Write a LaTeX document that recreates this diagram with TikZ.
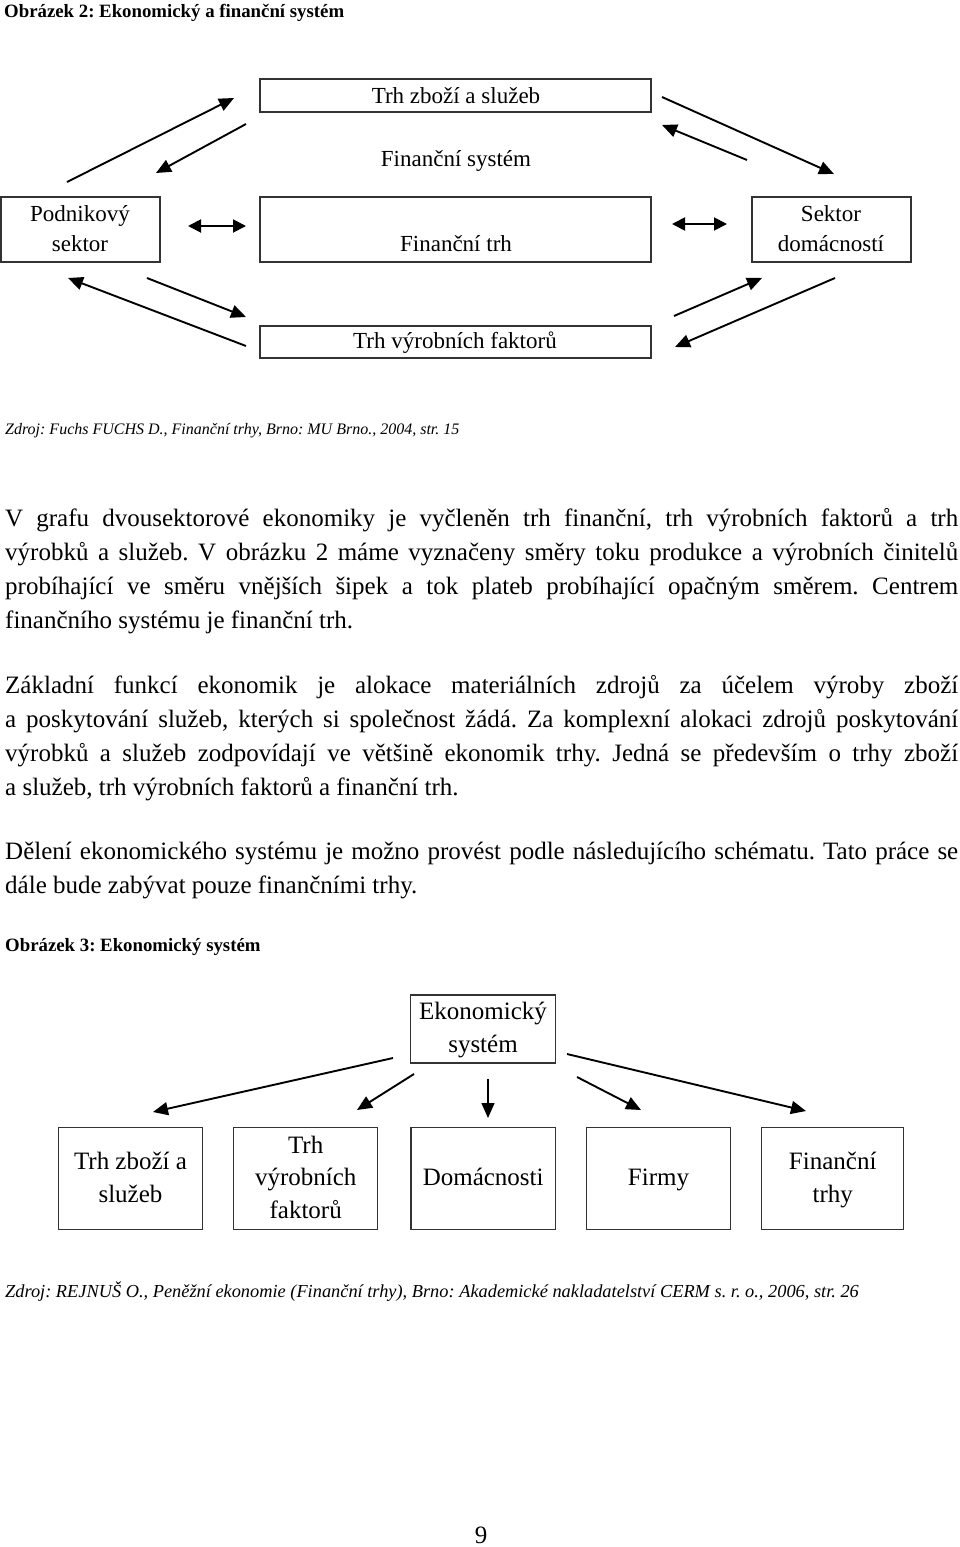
\documentclass[tikz,border=0pt]{standalone}
\usepackage{fontspec}
\setmainfont{Liberation Serif}
\usetikzlibrary{arrows.meta}
\begin{document}
\frenchspacing
\begin{tikzpicture}[x=1pt,y=-1pt,
  bx/.style={draw=black!80, line width=1.4pt, inner sep=0pt},
  ta/.style={font=\fontsize{23}{30}\selectfont, inner sep=0pt, anchor=base},
  tb/.style={font=\fontsize{25}{33}\selectfont, inner sep=0pt, anchor=base},
  body/.style={font=\fontsize{25}{34}\selectfont, inner sep=0pt, anchor=base west},
  ttl/.style={font=\fontsize{18.8}{22}\selectfont\bfseries, inner sep=0pt, anchor=base west},
  src/.style={font=\fontsize{16}{20}\selectfont\itshape, inner sep=0pt, anchor=base west},
  arr/.style={-{Triangle[length=15pt,width=13pt]}, line width=1.9pt},
  darr/.style={{Triangle[length=13pt,width=13pt]}-{Triangle[length=13pt,width=13pt]}, line width=1.9pt}]
\useasboundingbox[fill=white] (0,0) rectangle (960,1547);

% ---------- heading ----------
\node[ttl] (h1) at (4,17) {Obrázek 2: Ekonomický a finanční systém};

% ---------- top diagram: boxes ----------
\node[bx, minimum width=391pt, minimum height=33pt] (tzs) at (455.5,95.5) {};
\node[bx, minimum width=391pt, minimum height=65pt] (ft) at (455.5,229.5) {};
\node[bx, minimum width=159pt, minimum height=65pt] (pod) at (80.5,229.5) {};
\node[bx, minimum width=159pt, minimum height=65pt] (sd) at (831.5,229.5) {};
\node[bx, minimum width=391pt, minimum height=32pt] (tvf) at (455.5,342) {};

\node[ta] (tzsT) at (456,103) {Trh zboží a služeb};
\node[ta] (fsT) at (456,166) {Finanční systém};
\node[ta] (ftT) at (456,251) {Finanční trh};
\node[ta] (podT1) at (80,221) {Podnikový};
\node[ta] (podT2) at (80,251) {sektor};
\node[ta] (sdT1) at (831,221) {Sektor};
\node[ta] (sdT2) at (831,251) {domácností};
\node[ta] (tvfT) at (455,348) {Trh výrobních faktorů};

% ---------- top diagram: arrows ----------
\coordinate (a1s) at (67,182);   \coordinate (a1e) at (234,98);
\coordinate (a2s) at (246,124);  \coordinate (a2e) at (156,173);
\coordinate (a3s) at (188,226);  \coordinate (a3e) at (246,226);
\coordinate (a4s) at (147,278);  \coordinate (a4e) at (246,317);
\coordinate (a5s) at (246,346);  \coordinate (a5e) at (68,278);
\coordinate (b1s) at (662,97);   \coordinate (b1e) at (834,174);
\coordinate (b2s) at (747,160);  \coordinate (b2e) at (662,125);
\coordinate (b3s) at (672,224);  \coordinate (b3e) at (727,224);
\coordinate (b4s) at (674,316);  \coordinate (b4e) at (762,278);
\coordinate (b5s) at (835,278);  \coordinate (b5e) at (675,347);
\draw[arr] (a1s) -- (a1e);
\draw[arr] (a2s) -- (a2e);
\draw[darr] (a3s) -- (a3e);
\draw[arr] (a4s) -- (a4e);
\draw[arr] (a5s) -- (a5e);
\draw[arr] (b1s) -- (b1e);
\draw[arr] (b2s) -- (b2e);
\draw[darr] (b3s) -- (b3e);
\draw[arr] (b4s) -- (b4e);
\draw[arr] (b5s) -- (b5e);

% ---------- source 1 ----------
\node[src] (z1) at (5,434) {Zdroj: Fuchs FUCHS D., Finanční trhy, Brno: MU Brno., 2004, str. 15};

% ---------- body text ----------
\node[body] (p1) at (5,526) {\makebox[953pt][s]{V grafu dvousektorové ekonomiky je vyčleněn trh finanční, trh výrobních faktorů a trh}};
\node[body] (p2) at (5,560) {\makebox[953pt][s]{výrobků a služeb. V obrázku 2 máme vyznačeny směry toku produkce a výrobních činitelů}};
\node[body] (p3) at (5,594) {\makebox[953pt][s]{probíhající ve směru vnějších šipek a tok plateb probíhající opačným směrem. Centrem}};
\node[body] (p4) at (5,628) {finančního systému je finanční trh.};

\node[body] (q1) at (5,693) {\makebox[953pt][s]{Základní funkcí ekonomik je alokace materiálních zdrojů za účelem výroby zboží}};
\node[body] (q2) at (5,727) {\makebox[953pt][s]{a poskytování služeb, kterých si společnost žádá. Za komplexní alokaci zdrojů poskytování}};
\node[body] (q3) at (5,761) {\makebox[953pt][s]{výrobků a služeb zodpovídají ve většině ekonomik trhy. Jedná se především o trhy zboží}};
\node[body] (q4) at (5,795) {a služeb, trh výrobních faktorů a finanční trh.};

\node[body] (r1) at (5,859) {\makebox[953pt][s]{Dělení ekonomického systému je možno provést podle následujícího schématu. Tato práce se}};
\node[body] (r2) at (5,893) {dále bude zabývat pouze finančními trhy.};

% ---------- heading 2 ----------
\node[ttl] (h2) at (5,951) {Obrázek 3: Ekonomický systém};

% ---------- bottom diagram ----------
\node[bx, minimum width=144.5pt, minimum height=68pt] (eks) at (483,1029) {};
\node[bx, minimum width=143.6pt, minimum height=101.6pt] (c1) at (130.5,1178.5) {};
\node[bx, minimum width=144pt, minimum height=101.6pt] (c2) at (305.7,1178.5) {};
\node[bx, minimum width=144.3pt, minimum height=101.6pt] (c3) at (483.2,1178.5) {};
\node[bx, minimum width=143.6pt, minimum height=101.6pt] (c4) at (658.5,1178.5) {};
\node[bx, minimum width=142pt, minimum height=101.6pt] (c5) at (832.7,1178.5) {};

\node[tb] (eksT1) at (483,1019) {Ekonomický};
\node[tb] (eksT2) at (483,1052) {systém};
\node[tb] (c1T1) at (130.5,1169) {Trh zboží a};
\node[tb] (c1T2) at (130.5,1202) {služeb};
\node[tb] (c2T1) at (305.7,1153) {Trh};
\node[tb] (c2T2) at (305.7,1185) {výrobních};
\node[tb] (c2T3) at (305.7,1218) {faktorů};
\node[tb] (c3T) at (483.2,1185) {Domácnosti};
\node[tb] (c4T) at (658.5,1185) {Firmy};
\node[tb] (c5T1) at (832.7,1169) {Finanční};
\node[tb] (c5T2) at (832.7,1202) {trhy};

\coordinate (d1s) at (393,1058);  \coordinate (d1e) at (153,1112);
\coordinate (d2s) at (414,1074);  \coordinate (d2e) at (357,1110);
\coordinate (d3s) at (488,1079);  \coordinate (d3e) at (488,1118);
\coordinate (d4s) at (577,1077);  \coordinate (d4e) at (641,1110);
\coordinate (d5s) at (567,1054);  \coordinate (d5e) at (806,1111);
\draw[arr] (d1s) -- (d1e);
\draw[arr] (d2s) -- (d2e);
\draw[arr,line width=1.4pt] (d3s) -- (d3e);
\draw[arr] (d4s) -- (d4e);
\draw[arr] (d5s) -- (d5e);

% ---------- source 2 ----------
\node[src, font=\fontsize{18.35}{22}\selectfont\itshape] (z2) at (5,1297) {Zdroj: REJNUŠ O., Peněžní ekonomie (Finanční trhy), Brno: Akademické nakladatelství CERM s. r. o., 2006, str. 26};

% ---------- page number ----------
\node[tb] (pg) at (481,1543) {9};
\end{tikzpicture}
\end{document}
